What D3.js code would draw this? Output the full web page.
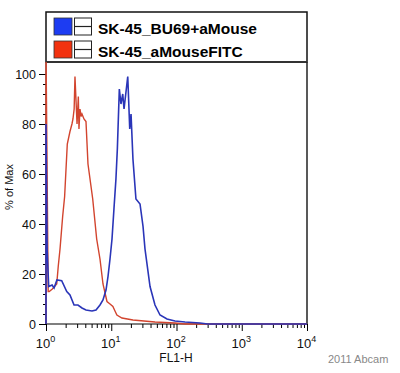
<!DOCTYPE html>
<html>
<head>
<meta charset="utf-8">
<script src="https://cdn.jsdelivr.net/npm/d3@7"></script>
<style>
  body { margin: 0; background: #fff; }
  svg { font-family: "Liberation Sans", Arial, sans-serif; }
</style>
</head>
<body>
<div id="chart"></div>
<script>
// histogram values: [FL1-H, % of Max]
var redSeries = [[1.0,0],[1.0,110],[1.08,13],[1.12,13],[1.25,14],[1.46,16],[1.54,23],[1.64,30],[1.8,43],[1.93,51],
  [2.12,72],[2.33,77],[2.5,80],[2.59,82],[2.7,86],[2.78,99],[2.9,88],[2.99,80],[3.13,91],[3.2,78],[3.32,86],[3.45,83],
  [3.56,84],[3.82,82],[4.1,81],[4.4,64],[5.2,50],[5.98,34],[6.72,26],[7.47,16],[8.6,9],[9.57,8],[10.6,7],[11.5,5],
  [12.2,3.6],[14.6,2.4],[21.5,1.6],[46.8,0.8],[94.8,0.4],[135,0],[10000,0]]

var blueSeries = [[1.0,0],[1.0,80],[1.04,30],[1.1,15],[1.24,15.6],[1.33,14.4],[1.47,17.6],[1.74,17.3],[2.08,13],[2.33,11.6],
  [2.69,7.6],[3.09,7.6],[3.56,6.4],[4.1,5.6],[5.07,5.2],[5.84,5.6],[6.72,7.6],[7.47,9.6],[8.31,13.6],[8.92,19],[9.57,26],
  [10.27,34],[11.0,46],[11.8,58],[12.4,70],[13.3,94],[14.1,88],[15.0,92],[15.7,86],[17.9,99],[19.2,78],[20.1,84],
  [21.5,66],[23.9,50],[27.6,48],[30.7,39],[32.9,30],[39.3,15],[46.8,7.6],[55.9,3.6],[71.5,2],[94.8,1.2],[135,0.8],
  [229,0.4],[300,0],[10000,0]]

var seriesNames = ["SK-45_BU69+aMouse", "SK-45_aMouseFITC"]
var legendFill = ["#1d3cf2", "#f2320f"]
var lineColors = ["#2a35b8", "#d2442e"]

var yMajor = [0, 20, 40, 60, 80, 100]
var xMajor = [1, 10, 100, 1000, 10000]

var width = 400, height = 373
var mLeft = 46, mRight = 307, mTop = 62, mBottom = 324

var svg = d3.select("#chart").append("svg")
  .attr("width", width)
  .attr("height", height)

var x = d3.scaleLog().domain([1, 10000]).range([mLeft, mRight])
var y = d3.scaleLinear().domain([0, 104.8]).range([mBottom, mTop])

svg.append("clipPath").attr("id", "plotclip")
  .append("rect")
  .attr("x", mLeft - 2).attr("y", mTop)
  .attr("width", mRight - mLeft + 4).attr("height", mBottom - mTop + 2)

// legend box
svg.append("rect")
  .attr("x", mLeft).attr("y", 12)
  .attr("width", mRight - mLeft).attr("height", mTop - 12)
  .attr("fill", "#fff").attr("stroke", "#111").attr("stroke-width", 1.5)

seriesNames.forEach(function(name, i) {
  var ly = 18 + i * 23
  svg.append("rect")
    .attr("x", 54).attr("y", ly).attr("width", 18).attr("height", 17)
    .attr("fill", legendFill[i]).attr("stroke", "#333").attr("stroke-width", 0.8)
  svg.append("rect")
    .attr("x", 74.5).attr("y", ly).attr("width", 17).attr("height", 17)
    .attr("fill", "#fff").attr("stroke", "#222").attr("stroke-width", 1)
  svg.append("line")
    .attr("x1", 74.5).attr("x2", 91.5).attr("y1", ly + 8.5).attr("y2", ly + 8.5)
    .attr("stroke", "#222").attr("stroke-width", 1.2)
  svg.append("text")
    .attr("x", 98).attr("y", ly + 15.5)
    .attr("font-size", "15.5px").attr("font-weight", "bold")
    .text(name)
})

// frame top + right
svg.append("line").attr("x1", mLeft).attr("x2", mRight).attr("y1", mTop).attr("y2", mTop)
  .attr("stroke", "#333").attr("stroke-width", 2)
svg.append("line").attr("x1", mRight).attr("x2", mRight).attr("y1", mTop).attr("y2", mBottom)
  .attr("stroke", "#222").attr("stroke-width", 1.5)

// y axis
var yMinor = d3.range(0, 101, 4).filter(function(v) { return v % 20 != 0 })
svg.append("g")
  .attr("transform", "translate(" + mLeft + ",0)")
  .call(d3.axisLeft(y).tickValues(yMinor).tickSize(3).tickFormat(""))
  .call(function(g) { g.select(".domain").remove() })
svg.append("g")
  .attr("transform", "translate(" + mLeft + ",0)")
  .call(d3.axisLeft(y).tickValues(yMajor).tickSize(7).tickPadding(3))
  .call(function(g) {
    g.select(".domain").attr("d", "M0," + mBottom + "V" + mTop).attr("stroke-width", 1)
    g.selectAll("text").attr("font-size", "12.5px").attr("fill", "#111")
  })

// x axis
var xMinor = []
xMajor.slice(0, -1).forEach(function(d) {
  for (var k = 2; k < 10; k++) xMinor.push(d * k)
})
svg.append("g")
  .attr("transform", "translate(0," + mBottom + ")")
  .call(d3.axisBottom(x).tickValues(xMinor).tickSize(4).tickFormat(""))
  .call(function(g) { g.select(".domain").remove() })
svg.append("g")
  .attr("transform", "translate(0," + mBottom + ")")
  .call(d3.axisBottom(x).tickValues(xMajor).tickSize(7).tickFormat(""))
  .call(function(g) {
    g.select(".domain").attr("d", "M" + mLeft + ",0H" + mRight).attr("stroke-width", 1.2)
    g.selectAll(".tick text").remove()
    var t = g.selectAll(".tick").append("text")
      .attr("fill", "#111")
      .attr("y", 24)
      .attr("x", -1)
      .attr("text-anchor", "middle")
      .attr("font-size", "13px")
    t.append("tspan").text("10")
    t.append("tspan").attr("dy", -6).attr("font-size", "9px")
      .text(function(d) { return Math.round(Math.log10(d)) })
  })

// histograms
var line = d3.line()
  .x(function(d) { return x(d[0]) })
  .y(function(d) { return y(d[1]) })

var plot = svg.append("g").attr("clip-path", "url(#plotclip)")
plot.append("path").datum(redSeries)
  .attr("d", line).attr("fill", "none")
  .attr("stroke", lineColors[1]).attr("stroke-width", 1.4)
plot.append("path").datum(blueSeries)
  .attr("d", line).attr("fill", "none")
  .attr("stroke", lineColors[0]).attr("stroke-width", 1.6)

// axis titles
svg.append("text")
  .attr("transform", "translate(13,187) rotate(-90)")
  .attr("text-anchor", "middle")
  .attr("font-size", "11px").attr("fill", "#111")
  .text("% of Max")
svg.append("text")
  .attr("x", 176).attr("y", 362)
  .attr("text-anchor", "middle")
  .attr("font-size", "12px").attr("fill", "#111")
  .text("FL1-H")
svg.append("text")
  .attr("x", 328).attr("y", 363)
  .attr("font-size", "11px").attr("fill", "#888")
  .text("2011 Abcam")
</script>
</body>
</html>
